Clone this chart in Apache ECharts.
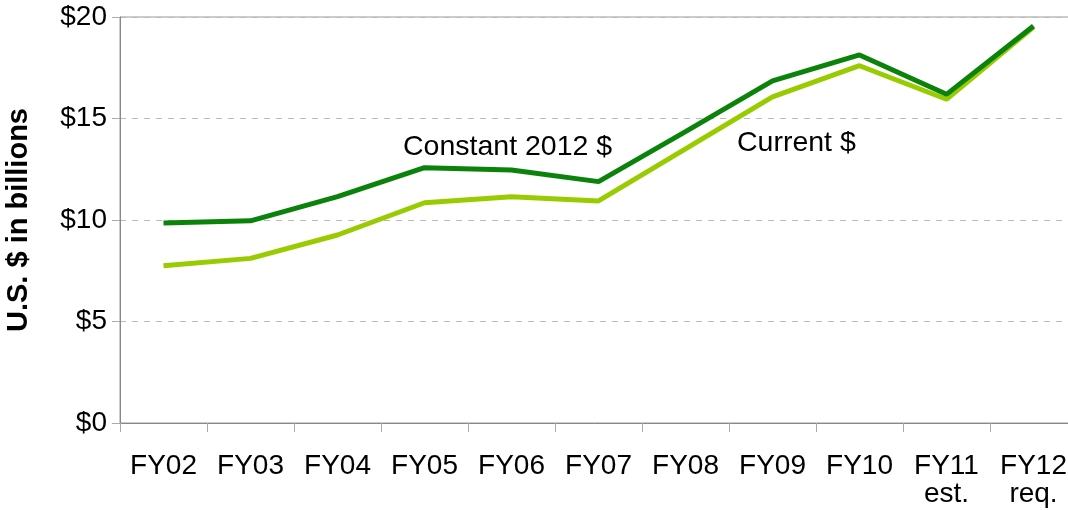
<!DOCTYPE html>
<html lang="en">
<head>
    <meta charset="UTF-8">
    <title>U.S. $ in billions</title>
    <script src="https://cdn.jsdelivr.net/npm/echarts@6/dist/echarts.min.js" type="text/javascript"></script>
    <style>
        html, body { margin: 0; padding: 0; background: #fff; }
        #main { width: 1068px; height: 510px; }
    </style>
</head>
<body>
<div id="main"></div>
<script language="JavaScript">
    var years = ['FY02', 'FY03', 'FY04', 'FY05', 'FY06', 'FY07', 'FY08', 'FY09', 'FY10', 'FY11\nest.', 'FY12\nreq.'];
    var constant2012 = [9.85, 9.96, 11.15, 12.58, 12.46, 11.89, 14.35, 16.85, 18.13, 16.19, 19.56];
    var current = [7.75, 8.11, 9.26, 10.85, 11.15, 10.94, 13.5, 16.07, 17.6, 15.95, 19.5];
    var yTicks = [0, 5, 10, 15, 20];

    var font = 'Liberation Sans, Arial, sans-serif';
    var myChart = echarts.init(document.getElementById('main'));
    var option = {
        animation: false,
        grid: {
            left: 120, top: 17, bottom: 87, right: -9,
            outerBoundsMode: 'none', containLabel: false,
            show: true, borderColor: '#999', borderWidth: 1
        },
        xAxis: {
            type: 'category',
            data: years,
            boundaryGap: true,
            axisLine: { lineStyle: { color: '#888', width: 1 } },
            axisTick: { show: true, length: 9, lineStyle: { color: '#aaa' } },
            axisLabel: {
                color: '#000', fontFamily: font, fontSize: 28, lineHeight: 28,
                margin: 29, interval: 0
            }
        },
        yAxis: {
            type: 'value',
            min: yTicks[0], max: yTicks[yTicks.length - 1], interval: 5,
            name: 'U.S. $ in billions',
            nameLocation: 'middle',
            nameGap: 87,
            nameTextStyle: { color: '#000', fontFamily: font, fontSize: 29, fontWeight: 'bold' },
            axisLine: { show: true, lineStyle: { color: '#888', width: 1 } },
            axisTick: { show: true, length: 8, lineStyle: { color: '#aaa' } },
            axisLabel: {
                color: '#000', fontFamily: font, fontSize: 28, margin: 13,
                formatter: function (v) { return '$' + v; }
            },
            splitLine: { show: true, lineStyle: { color: '#bbb', type: [6, 6] } }
        },
        series: [
            {
                name: 'Current $',
                type: 'line',
                data: current,
                symbol: 'none',
                lineStyle: { color: '#99cc00', width: 5 },
                z: 2
            },
            {
                name: 'Constant 2012 $',
                type: 'line',
                data: constant2012,
                symbol: 'none',
                lineStyle: { color: '#0b830b', width: 5 },
                z: 3
            }
        ],
        graphic: [
            {
                type: 'text', left: 403, top: 133,
                style: { text: 'Constant 2012 $', fill: '#000', font: '28.5px ' + font }
            },
            {
                type: 'text', left: 737, top: 129,
                style: { text: 'Current $', fill: '#000', font: '28.5px ' + font }
            }
        ]
    };
    myChart.setOption(option);
</script>
</body>
</html>
